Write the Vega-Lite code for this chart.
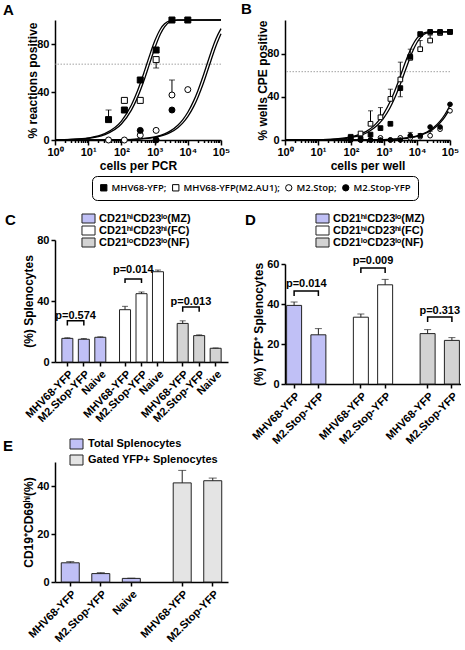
{
"$schema": "https://vega.github.io/schema/vega-lite/v6.json",
"padding": {"left": 3, "top": 1, "right": 0, "bottom": 0},
"config": {
 "view": {"stroke": null},
 "font": "Liberation Sans",
 "axis": {"labelFont": "Liberation Sans", "labelFontWeight": "bold", "labelFontSize": 11, "labelColor": "black", "titleFont": "Liberation Sans", "titleFontWeight": "bold", "titleFontSize": 12, "titleColor": "black", "domainColor": "black", "domainWidth": 1.5, "tickColor": "black", "tickWidth": 1.5, "tickSize": 4, "labelPadding": 2, "grid": false, "labelOverlap": false, "labelSeparation": -40},
 "axisY": {"labelOverlap": false, "labelSeparation": -40},
 "axisLeft": {"labelOverlap": false, "labelSeparation": -40},
 "title": {"font": "Liberation Sans", "fontSize": 15, "fontWeight": "bold", "anchor": "start", "frame": "group", "offset": 0, "color": "black"},
 "legend": {"labelFont": "Liberation Sans", "labelFontWeight": "bold", "labelColor": "black", "titleFont": "Liberation Sans", "titleFontSize": 15, "titleFontWeight": "bold", "titleColor": "black"}
},
"datasets": {
 "aPts": [
  {"s":"MHV68-YFP(M2.AU1)","x":123,"y":33},{"s":"MHV68-YFP(M2.AU1)","x":370,"y":33},{"s":"MHV68-YFP(M2.AU1)","x":1111,"y":67},
  {"s":"M2.Stop","x":41,"y":0},{"s":"M2.Stop","x":123,"y":0},{"s":"M2.Stop","x":370,"y":4},{"s":"M2.Stop","x":1111,"y":8},{"s":"M2.Stop","x":3333,"y":37.5},{"s":"M2.Stop","x":10000,"y":42},
  {"s":"MHV68-YFP","x":41,"y":17},{"s":"MHV68-YFP","x":123,"y":25},{"s":"MHV68-YFP","x":370,"y":50},{"s":"MHV68-YFP","x":1111,"y":75},{"s":"MHV68-YFP","x":3333,"y":100},{"s":"MHV68-YFP","x":10000,"y":100},
  {"s":"M2.Stop-YFP","x":370,"y":8},{"s":"M2.Stop-YFP","x":1111,"y":0},{"s":"M2.Stop-YFP","x":3333,"y":25}
 ],
 "aErr": [
  {"x":41,"lo":17,"hi":25},{"x":1111,"lo":60,"hi":67},{"x":3333,"lo":37.5,"hi":50}
 ],
 "aFit": [
  {"c":"l1","x":1,"y":0.17},{"c":"l1","x":3,"y":0.52},{"c":"l1","x":10,"y":1.71},{"c":"l1","x":30,"y":5.04},{"c":"l1","x":100,"y":15.8},{"c":"l1","x":200,"y":29.2},{"c":"l1","x":300,"y":40.4},{"c":"l1","x":500,"y":57.8},{"c":"l1","x":700,"y":70.1},{"c":"l1","x":1000,"y":82.2},{"c":"l1","x":1500,"y":92.5},{"c":"l1","x":2000,"y":96.8},{"c":"l1","x":3000,"y":99.4},{"c":"l1","x":5000,"y":100},{"c":"l1","x":100000,"y":100},
  {"c":"l2","x":1,"y":0.14},{"c":"l2","x":3,"y":0.43},{"c":"l2","x":10,"y":1.42},{"c":"l2","x":30,"y":4.2},{"c":"l2","x":100,"y":13.3},{"c":"l2","x":200,"y":24.9},{"c":"l2","x":300,"y":34.9},{"c":"l2","x":500,"y":51.0},{"c":"l2","x":700,"y":63.2},{"c":"l2","x":1000,"y":76.0},{"c":"l2","x":1500,"y":88.3},{"c":"l2","x":2000,"y":94.3},{"c":"l2","x":3000,"y":98.6},{"c":"l2","x":5000,"y":99.9},{"c":"l2","x":100000,"y":100},
  {"c":"r1","x":1,"y":0},{"c":"r1","x":10,"y":0.03},{"c":"r1","x":100,"y":0.26},{"c":"r1","x":300,"y":0.79},{"c":"r1","x":1000,"y":2.6},{"c":"r1","x":2000,"y":5.1},{"c":"r1","x":3000,"y":7.6},{"c":"r1","x":5000,"y":12.3},{"c":"r1","x":7000,"y":16.8},{"c":"r1","x":10000,"y":23.1},{"c":"r1","x":15000,"y":32.6},{"c":"r1","x":20000,"y":40.9},{"c":"r1","x":30000,"y":54.6},{"c":"r1","x":50000,"y":73.2},{"c":"r1","x":70000,"y":84.2},{"c":"r1","x":100000,"y":92.8},
  {"c":"r2","x":1,"y":0},{"c":"r2","x":10,"y":0.02},{"c":"r2","x":100,"y":0.22},{"c":"r2","x":300,"y":0.65},{"c":"r2","x":1000,"y":2.15},{"c":"r2","x":2000,"y":4.26},{"c":"r2","x":3000,"y":6.3},{"c":"r2","x":5000,"y":10.3},{"c":"r2","x":7000,"y":14.1},{"c":"r2","x":10000,"y":19.5},{"c":"r2","x":15000,"y":27.8},{"c":"r2","x":20000,"y":35.3},{"c":"r2","x":30000,"y":47.9},{"c":"r2","x":50000,"y":66.3},{"c":"r2","x":70000,"y":78.2},{"c":"r2","x":100000,"y":88.6}
 ],
 "bPts": [
  {"s":"M2.Stop","x":98,"y":0},{"s":"M2.Stop","x":195,"y":0},{"s":"M2.Stop","x":390,"y":0},{"s":"M2.Stop","x":781,"y":2},{"s":"M2.Stop","x":1562,"y":0},{"s":"M2.Stop","x":3125,"y":2},{"s":"M2.Stop","x":6250,"y":2},{"s":"M2.Stop","x":12500,"y":3},{"s":"M2.Stop","x":25000,"y":4},{"s":"M2.Stop","x":50000,"y":10},{"s":"M2.Stop","x":100000,"y":27},
  {"s":"M2.Stop-YFP","x":98,"y":0},{"s":"M2.Stop-YFP","x":195,"y":0},{"s":"M2.Stop-YFP","x":390,"y":0},{"s":"M2.Stop-YFP","x":781,"y":0},{"s":"M2.Stop-YFP","x":1562,"y":0},{"s":"M2.Stop-YFP","x":3125,"y":0},{"s":"M2.Stop-YFP","x":6250,"y":4},{"s":"M2.Stop-YFP","x":12500,"y":4},{"s":"M2.Stop-YFP","x":25000,"y":12},{"s":"M2.Stop-YFP","x":50000,"y":12},{"s":"M2.Stop-YFP","x":100000,"y":33},
  {"s":"MHV68-YFP(M2.AU1)","x":98,"y":3},{"s":"MHV68-YFP(M2.AU1)","x":195,"y":6},{"s":"MHV68-YFP(M2.AU1)","x":390,"y":15},{"s":"MHV68-YFP(M2.AU1)","x":781,"y":21},{"s":"MHV68-YFP(M2.AU1)","x":1562,"y":38},{"s":"MHV68-YFP(M2.AU1)","x":3125,"y":56},{"s":"MHV68-YFP(M2.AU1)","x":6250,"y":76},{"s":"MHV68-YFP(M2.AU1)","x":12500,"y":84},{"s":"MHV68-YFP(M2.AU1)","x":25000,"y":92},{"s":"MHV68-YFP(M2.AU1)","x":50000,"y":99},{"s":"MHV68-YFP(M2.AU1)","x":100000,"y":100},
  {"s":"MHV68-YFP","x":98,"y":2},{"s":"MHV68-YFP","x":195,"y":1},{"s":"MHV68-YFP","x":390,"y":5},{"s":"MHV68-YFP","x":781,"y":11},{"s":"MHV68-YFP","x":1562,"y":15},{"s":"MHV68-YFP","x":3125,"y":48},{"s":"MHV68-YFP","x":6250,"y":77},{"s":"MHV68-YFP","x":12500,"y":98},{"s":"MHV68-YFP","x":25000,"y":100},{"s":"MHV68-YFP","x":50000,"y":100},{"s":"MHV68-YFP","x":100000,"y":100}
 ],
 "bErr": [
  {"x":390,"lo":15,"hi":27},{"x":781,"lo":21,"hi":30},{"x":1562,"lo":38,"hi":47},{"x":3125,"lo":56,"hi":72},{"x":3125,"lo":40,"hi":48},{"x":6250,"lo":76,"hi":84},{"x":12500,"lo":84,"hi":92},{"x":25000,"lo":92,"hi":97},{"x":6250,"lo":4,"hi":7},{"x":12500,"lo":4,"hi":6},{"x":25000,"lo":4,"hi":8}
 ],
 "bFit": [
  {"c":"l1","x":1,"y":0.03},{"c":"l1","x":10,"y":0.29},{"c":"l1","x":30,"y":0.85},{"c":"l1","x":100,"y":2.8},{"c":"l1","x":200,"y":5.6},{"c":"l1","x":300,"y":8.2},{"c":"l1","x":500,"y":13.3},{"c":"l1","x":700,"y":18.1},{"c":"l1","x":1000,"y":24.9},{"c":"l1","x":1500,"y":34.9},{"c":"l1","x":2000,"y":43.5},{"c":"l1","x":3000,"y":57.6},{"c":"l1","x":5000,"y":76.0},{"c":"l1","x":7000,"y":86.5},{"c":"l1","x":10000,"y":94.3},{"c":"l1","x":15000,"y":98.6},{"c":"l1","x":20000,"y":99.7},{"c":"l1","x":30000,"y":100},{"c":"l1","x":100000,"y":100},
  {"c":"l2","x":1,"y":0.02},{"c":"l2","x":10,"y":0.23},{"c":"l2","x":30,"y":0.7},{"c":"l2","x":100,"y":2.3},{"c":"l2","x":200,"y":4.5},{"c":"l2","x":300,"y":6.7},{"c":"l2","x":500,"y":11.0},{"c":"l2","x":700,"y":15.0},{"c":"l2","x":1000,"y":20.8},{"c":"l2","x":1500,"y":29.4},{"c":"l2","x":2000,"y":37.2},{"c":"l2","x":3000,"y":50.2},{"c":"l2","x":5000,"y":68.7},{"c":"l2","x":7000,"y":80.4},{"c":"l2","x":10000,"y":90.2},{"c":"l2","x":15000,"y":96.9},{"c":"l2","x":20000,"y":99.0},{"c":"l2","x":30000,"y":99.9},{"c":"l2","x":100000,"y":100},
  {"c":"r1","x":1,"y":0},{"c":"r1","x":100,"y":0.04},{"c":"r1","x":1000,"y":0.38},{"c":"r1","x":3000,"y":1.15},{"c":"r1","x":10000,"y":3.8},{"c":"r1","x":20000,"y":7.4},{"c":"r1","x":30000,"y":10.9},{"c":"r1","x":50000,"y":17.5},{"c":"r1","x":70000,"y":23.6},{"c":"r1","x":100000,"y":31.9},
  {"c":"r2","x":1,"y":0},{"c":"r2","x":100,"y":0.03},{"c":"r2","x":1000,"y":0.34},{"c":"r2","x":3000,"y":1.03},{"c":"r2","x":10000,"y":3.4},{"c":"r2","x":20000,"y":6.7},{"c":"r2","x":30000,"y":9.8},{"c":"r2","x":50000,"y":15.8},{"c":"r2","x":70000,"y":21.4},{"c":"r2","x":100000,"y":29.2}
 ],
 "cBars": [
  {"k":"MZ|MHV68-YFP","g":"CD21ʰⁱCD23ˡᵒ(MZ)","v":15.5,"e":15.9},{"k":"MZ|M2.Stop-YFP","g":"CD21ʰⁱCD23ˡᵒ(MZ)","v":14.9,"e":15.4},{"k":"MZ|Naive","g":"CD21ʰⁱCD23ˡᵒ(MZ)","v":16.2,"e":16.5},
  {"k":"FC|MHV68-YFP","g":"CD21ʰⁱCD23ʰⁱ(FC)","v":34.3,"e":36.5},{"k":"FC|M2.Stop-YFP","g":"CD21ʰⁱCD23ʰⁱ(FC)","v":44.8,"e":45.9},{"k":"FC|Naive","g":"CD21ʰⁱCD23ʰⁱ(FC)","v":59.2,"e":60.3},
  {"k":"NF|MHV68-YFP","g":"CD21ˡᵒCD23ˡᵒ(NF)","v":25.3,"e":27.0},{"k":"NF|M2.Stop-YFP","g":"CD21ˡᵒCD23ˡᵒ(NF)","v":17.3,"e":17.8},{"k":"NF|Naive","g":"CD21ˡᵒCD23ˡᵒ(NF)","v":9.0,"e":9.2}
 ],
 "cBr": [
  {"b":"MZ","k":"MZ|MHV68-YFP","y":24,"o":0},{"b":"MZ","k":"MZ|MHV68-YFP","y":27,"o":1},{"b":"MZ","k":"MZ|M2.Stop-YFP","y":27,"o":2},{"b":"MZ","k":"MZ|M2.Stop-YFP","y":24,"o":3},
  {"b":"FC","k":"FC|MHV68-YFP","y":51.8,"o":0},{"b":"FC","k":"FC|MHV68-YFP","y":54.5,"o":1},{"b":"FC","k":"FC|M2.Stop-YFP","y":54.5,"o":2},{"b":"FC","k":"FC|M2.Stop-YFP","y":51.8,"o":3},
  {"b":"NF","k":"NF|MHV68-YFP","y":33,"o":0},{"b":"NF","k":"NF|MHV68-YFP","y":36,"o":1},{"b":"NF","k":"NF|M2.Stop-YFP","y":36,"o":2},{"b":"NF","k":"NF|M2.Stop-YFP","y":33,"o":3}
 ],
 "cP": [
  {"k":"s1","y":28.4,"t":"p=0.574"},{"k":"s5","y":58.2,"t":"p=0.014"},{"k":"s9","y":37.5,"t":"p=0.013"}
 ],
 "dBars": [
  {"k":"MZ|MHV68-YFP","g":"CD21ʰⁱCD23ˡᵒ(MZ)","v":39.3,"e":41.0},{"k":"MZ|M2.Stop-YFP","g":"CD21ʰⁱCD23ˡᵒ(MZ)","v":24.6,"e":27.7},
  {"k":"FC|MHV68-YFP","g":"CD21ʰⁱCD23ʰⁱ(FC)","v":33.4,"e":35.0},{"k":"FC|M2.Stop-YFP","g":"CD21ʰⁱCD23ʰⁱ(FC)","v":49.6,"e":52.3},
  {"k":"NF|MHV68-YFP","g":"CD21ˡᵒCD23ˡᵒ(NF)","v":25.2,"e":27.2},{"k":"NF|M2.Stop-YFP","g":"CD21ˡᵒCD23ˡᵒ(NF)","v":21.8,"e":23.2}
 ],
 "dBr": [
  {"b":"MZ","k":"MZ|MHV68-YFP","y":44,"o":0},{"b":"MZ","k":"MZ|MHV68-YFP","y":46.5,"o":1},{"b":"MZ","k":"MZ|M2.Stop-YFP","y":46.5,"o":2},{"b":"MZ","k":"MZ|M2.Stop-YFP","y":44,"o":3},
  {"b":"FC","k":"FC|MHV68-YFP","y":55.5,"o":0},{"b":"FC","k":"FC|MHV68-YFP","y":58,"o":1},{"b":"FC","k":"FC|M2.Stop-YFP","y":58,"o":2},{"b":"FC","k":"FC|M2.Stop-YFP","y":55.5,"o":3},
  {"b":"NF","k":"NF|MHV68-YFP","y":31,"o":0},{"b":"NF","k":"NF|MHV68-YFP","y":33.5,"o":1},{"b":"NF","k":"NF|M2.Stop-YFP","y":33.5,"o":2},{"b":"NF","k":"NF|M2.Stop-YFP","y":31,"o":3}
 ],
 "dP": [
  {"k":"d2","y":48.5,"t":"p=0.014"},{"k":"d11","y":60,"t":"p=0.009"},{"k":"d20","y":35,"t":"p=0.313"}
 ],
 "eBars": [
  {"k":"T|MHV68-YFP","g":"Total Splenocytes","v":8.0,"e":8.5},{"k":"T|M2.Stop-YFP","g":"Total Splenocytes","v":3.5,"e":3.9},{"k":"T|Naive","g":"Total Splenocytes","v":1.5,"e":1.6},
  {"k":"G|MHV68-YFP","g":"Gated YFP+ Splenocytes","v":41.3,"e":46.5},{"k":"G|M2.Stop-YFP","g":"Gated YFP+ Splenocytes","v":42.2,"e":43.3}
 ]
},
"columns": 2,
"spacing": {"row": 78, "column": 57},
"bounds": "flush",
"resolve": {"scale": {"fill": "independent", "shape": "independent", "stroke": "independent"}, "legend": {"fill": "independent", "shape": "independent", "stroke": "independent"}},
"concat": [
 {
  "title": {"text": "A", "dx": -52, "dy": 7},
  "width": 166, "height": 120,
  "layer": [
   {"data": {"values": [{"y": 63.2}]}, "mark": {"type": "rule", "color": "#8c8c8c", "strokeWidth": 0.8, "strokeDash": [1.5, 1.5]},
    "encoding": {"y": {"field": "y", "type": "quantitative", "scale": {"domain": [0, 100], "nice": false}, "axis": {"values": [0,20,40,60,80,100], "labelOverlap": false, "labelSeparation": -40, "labelFlush": false, "title": "% reactions positive", "titlePadding": -3}}}},
   {"data": {"name": "aFit"}, "mark": {"type": "line", "color": "black", "strokeWidth": 1.3, "interpolate": "monotone"},
    "encoding": {"x": {"field": "x", "type": "quantitative", "scale": {"type": "log", "domain": [1, 100000], "nice": false},
      "axis": {"values": [1,2,3,4,5,6,7,8,9,10,20,30,40,50,60,70,80,90,100,200,300,400,500,600,700,800,900,1000,2000,3000,4000,5000,6000,7000,8000,9000,10000,20000,30000,40000,50000,60000,70000,80000,90000,100000],
       "labelExpr": "indexof([1,10,100,1000,10000,100000], datum.value) >= 0 ? '10' + ['⁰','¹','²','³','⁴','⁵'][round(log(datum.value)/LN10)] : ''",
       "labelOverlap": false, "labelFlush": false, "labelPadding": 1,
       "tickSize": {"condition": {"test": "indexof([1,10,100,1000,10000,100000], datum.value) >= 0", "value": 5}, "value": 2.5},
       "title": "cells per PCR", "titlePadding": 3}},
     "y": {"field": "y", "type": "quantitative"}, "detail": {"field": "c"}}},
   {"data": {"name": "aErr"}, "mark": {"type": "rule", "color": "black", "strokeWidth": 1},
    "encoding": {"x": {"field": "x", "type": "quantitative"}, "y": {"field": "lo", "type": "quantitative"}, "y2": {"field": "hi"}}},
   {"data": {"name": "aErr"}, "mark": {"type": "tick", "orient": "horizontal", "size": 6, "thickness": 1, "color": "black"},
    "encoding": {"x": {"field": "x", "type": "quantitative"}, "y": {"field": "hi", "type": "quantitative"}}},
   {"data": {"name": "aErr"}, "mark": {"type": "tick", "orient": "horizontal", "size": 6, "thickness": 1, "color": "black"},
    "encoding": {"x": {"field": "x", "type": "quantitative"}, "y": {"field": "lo", "type": "quantitative"}}},
   {"data": {"name": "aPts"}, "mark": {"type": "point", "filled": true, "strokeWidth": 1, "size": 36, "opacity": 1},
    "encoding": {"x": {"field": "x", "type": "quantitative"}, "y": {"field": "y", "type": "quantitative"},
     "fill": {"field": "s", "type": "nominal", "scale": {"domain": ["MHV68-YFP","MHV68-YFP(M2.AU1)","M2.Stop","M2.Stop-YFP"], "range": ["black","white","white","black"]},
      "legend": {"orient": "none", "legendX": 37, "legendY": 156, "direction": "horizontal", "columns": 4, "title": null, "strokeColor": "black", "fillColor": "white", "cornerRadius": 5, "padding": 7, "labelFont": "Open Sans", "labelFontSize": 9.5, "labelFontWeight": 600, "symbolSize": 40, "symbolStrokeWidth": 1, "columnPadding": 3, "labelOffset": 3, "labelExpr": "datum.label == 'M2.Stop-YFP' ? datum.label : datum.label + ';'"}},
     "shape": {"field": "s", "type": "nominal", "scale": {"domain": ["MHV68-YFP","MHV68-YFP(M2.AU1)","M2.Stop","M2.Stop-YFP"], "range": ["square","square","circle","circle"]},
      "legend": {"orient": "none", "legendX": 37, "legendY": 156, "direction": "horizontal", "columns": 4, "title": null, "strokeColor": "black", "fillColor": "white", "cornerRadius": 5, "padding": 7, "labelFont": "Open Sans", "labelFontSize": 9.5, "labelFontWeight": 600, "symbolSize": 40, "symbolStrokeWidth": 1, "columnPadding": 3, "labelOffset": 3, "labelExpr": "datum.label == 'M2.Stop-YFP' ? datum.label : datum.label + ';'"}},
     "stroke": {"field": "s", "type": "nominal", "scale": {"domain": ["MHV68-YFP","MHV68-YFP(M2.AU1)","M2.Stop","M2.Stop-YFP"], "range": ["black","black","black","black"]},
      "legend": {"orient": "none", "legendX": 37, "legendY": 156, "direction": "horizontal", "columns": 4, "title": null, "strokeColor": "black", "fillColor": "white", "cornerRadius": 5, "padding": 7, "labelFont": "Open Sans", "labelFontSize": 9.5, "labelFontWeight": 600, "symbolSize": 40, "symbolStrokeWidth": 1, "columnPadding": 3, "labelOffset": 3, "labelExpr": "datum.label == 'M2.Stop-YFP' ? datum.label : datum.label + ';'"}}}}
  ]
 },
 {
  "title": {"text": "B", "dx": -44, "dy": 1},
  "width": 165, "height": 120,
  "layer": [
   {"data": {"values": [{"y": 63.2}]}, "mark": {"type": "rule", "color": "#8c8c8c", "strokeWidth": 0.8, "strokeDash": [1.5, 1.5]},
    "encoding": {"y": {"field": "y", "type": "quantitative", "scale": {"domain": [0, 111], "nice": false}, "axis": {"values": [0,20,40,60,80,100], "labelOverlap": false, "labelSeparation": -40, "labelFlush": false, "title": "% wells CPE positive", "titlePadding": -3}}}},
   {"data": {"name": "bFit"}, "mark": {"type": "line", "color": "black", "strokeWidth": 1.3, "interpolate": "monotone"},
    "encoding": {"x": {"field": "x", "type": "quantitative", "scale": {"type": "log", "domain": [1, 100000], "nice": false},
      "axis": {"values": [1,2,3,4,5,6,7,8,9,10,20,30,40,50,60,70,80,90,100,200,300,400,500,600,700,800,900,1000,2000,3000,4000,5000,6000,7000,8000,9000,10000,20000,30000,40000,50000,60000,70000,80000,90000,100000],
       "labelExpr": "indexof([1,10,100,1000,10000,100000], datum.value) >= 0 ? '10' + ['⁰','¹','²','³','⁴','⁵'][round(log(datum.value)/LN10)] : ''",
       "labelOverlap": false, "labelFlush": false, "labelPadding": 1,
       "tickSize": {"condition": {"test": "indexof([1,10,100,1000,10000,100000], datum.value) >= 0", "value": 5}, "value": 2.5},
       "title": "cells per well", "titlePadding": 3}},
     "y": {"field": "y", "type": "quantitative"}, "detail": {"field": "c"}}},
   {"data": {"name": "bErr"}, "mark": {"type": "rule", "color": "black", "strokeWidth": 1},
    "encoding": {"x": {"field": "x", "type": "quantitative"}, "y": {"field": "lo", "type": "quantitative"}, "y2": {"field": "hi"}}},
   {"data": {"name": "bErr"}, "mark": {"type": "tick", "orient": "horizontal", "size": 5, "thickness": 1, "color": "black"},
    "encoding": {"x": {"field": "x", "type": "quantitative"}, "y": {"field": "hi", "type": "quantitative"}}},
   {"data": {"name": "bErr"}, "mark": {"type": "tick", "orient": "horizontal", "size": 5, "thickness": 1, "color": "black"},
    "encoding": {"x": {"field": "x", "type": "quantitative"}, "y": {"field": "lo", "type": "quantitative"}}},
   {"data": {"name": "bPts"}, "mark": {"type": "point", "filled": true, "stroke": "black", "strokeWidth": 1, "size": 22, "opacity": 1},
    "encoding": {"x": {"field": "x", "type": "quantitative"}, "y": {"field": "y", "type": "quantitative"},
     "fill": {"field": "s", "type": "nominal", "scale": {"domain": ["MHV68-YFP","MHV68-YFP(M2.AU1)","M2.Stop","M2.Stop-YFP"], "range": ["black","white","white","black"]}, "legend": null},
     "shape": {"field": "s", "type": "nominal", "scale": {"domain": ["MHV68-YFP","MHV68-YFP(M2.AU1)","M2.Stop","M2.Stop-YFP"], "range": ["square","square","circle","circle"]}, "legend": null}}}
  ]
 },
 {
  "width": 173, "height": 144,
  "layer": [
   {"data": {"name": "cBars"}, "mark": {"type": "bar", "width": 11, "stroke": "#222222", "strokeWidth": 1},
    "encoding": {
     "x": {"field": "k", "type": "nominal", "scale": {"domain": ["MZ|MHV68-YFP","s1","MZ|M2.Stop-YFP","s2","MZ|Naive","s3","s4","FC|MHV68-YFP","s5","FC|M2.Stop-YFP","s6","FC|Naive","s7","s8","NF|MHV68-YFP","s9","NF|M2.Stop-YFP","s10","NF|Naive"], "paddingInner": 0, "paddingOuter": 1.17},
      "axis": {"values": ["MZ|MHV68-YFP","MZ|M2.Stop-YFP","MZ|Naive","FC|MHV68-YFP","FC|M2.Stop-YFP","FC|Naive","NF|MHV68-YFP","NF|M2.Stop-YFP","NF|Naive"], "labelExpr": "split(datum.value, '|')[1]", "labelAngle": -45, "labelOverlap": false, "title": null}},
     "y": {"field": "v", "type": "quantitative", "scale": {"domain": [0, 80], "range": [144, 22], "nice": false}, "axis": {"values": [0,20,40,60,80], "labelOverlap": false, "labelSeparation": -40, "labelFlush": false, "title": "(%) Splenocytes", "titlePadding": 1}},
     "fill": {"field": "g", "type": "nominal", "scale": {"domain": ["CD21ʰⁱCD23ˡᵒ(MZ)","CD21ʰⁱCD23ʰⁱ(FC)","CD21ˡᵒCD23ˡᵒ(NF)"], "range": ["#c0c0f6","#ffffff","#d3d3d3"]},
      "legend": {"orient": "none", "legendX": -50, "legendY": -5, "title": "C", "titleOrient": "left", "titleAnchor": "start", "titleBaseline": "top", "titlePadding": 67, "symbolType": "M-1.45,-1H1.45V1H-1.45Z", "symbolSize": 81, "symbolStrokeColor": "#222222", "symbolStrokeWidth": 1, "labelFontSize": 11, "rowPadding": -4, "labelOffset": 5}}}},
   {"data": {"name": "cBars"}, "mark": {"type": "rule", "color": "#222222", "strokeWidth": 1},
    "encoding": {"x": {"field": "k", "type": "nominal"}, "y": {"field": "v", "type": "quantitative"}, "y2": {"field": "e"}}},
   {"data": {"name": "cBars"}, "mark": {"type": "tick", "orient": "horizontal", "size": 6, "thickness": 1, "color": "#222222"},
    "encoding": {"x": {"field": "k", "type": "nominal"}, "y": {"field": "e", "type": "quantitative"}}},
   {"data": {"name": "cBr"}, "mark": {"type": "line", "color": "black", "strokeWidth": 1.5},
    "encoding": {"x": {"field": "k", "type": "nominal"}, "y": {"field": "y", "type": "quantitative"}, "detail": {"field": "b"}, "order": {"field": "o"}}},
   {"data": {"name": "cP"}, "mark": {"type": "text", "font": "Liberation Sans", "fontWeight": "bold", "fontSize": 11, "baseline": "alphabetic"},
    "encoding": {"x": {"field": "k", "type": "nominal"}, "y": {"field": "y", "type": "quantitative"}, "text": {"field": "t"}}}
  ]
 },
 {
  "width": 176, "height": 166,
  "layer": [
   {"data": {"name": "dBars"}, "mark": {"type": "bar", "width": 15, "stroke": "#222222", "strokeWidth": 1},
    "encoding": {
     "x": {"field": "k", "type": "nominal", "scale": {"domain": ["MZ|MHV68-YFP","d1","d2","d3","MZ|M2.Stop-YFP","d4","d5","d6","d7","d8","d9","FC|MHV68-YFP","d10","d11","d12","FC|M2.Stop-YFP","d13","d14","d15","d16","d17","d18","NF|MHV68-YFP","d19","d20","d21","NF|M2.Stop-YFP"], "paddingInner": 0, "paddingOuter": 3.35},
      "axis": {"values": ["MZ|MHV68-YFP","MZ|M2.Stop-YFP","FC|MHV68-YFP","FC|M2.Stop-YFP","NF|MHV68-YFP","NF|M2.Stop-YFP"], "labelExpr": "split(datum.value, '|')[1]", "labelAngle": -45, "labelOverlap": false, "title": null}},
     "y": {"field": "v", "type": "quantitative", "scale": {"domain": [0, 60], "range": [166, 46], "nice": false}, "axis": {"values": [0,20,40,60], "labelOverlap": false, "labelSeparation": -40, "labelFlush": false, "title": "(%) YFP⁺ Splenocytes", "titlePadding": 1}},
     "fill": {"field": "g", "type": "nominal", "scale": {"domain": ["CD21ʰⁱCD23ˡᵒ(MZ)","CD21ʰⁱCD23ʰⁱ(FC)","CD21ˡᵒCD23ˡᵒ(NF)"], "range": ["#c0c0f6","#ffffff","#d3d3d3"]},
      "legend": {"orient": "none", "legendX": -40, "legendY": -5, "title": "D", "titleOrient": "left", "titleAnchor": "start", "titleBaseline": "top", "titlePadding": 61, "symbolType": "M-1.45,-1H1.45V1H-1.45Z", "symbolSize": 81, "symbolStrokeColor": "#222222", "symbolStrokeWidth": 1, "labelFontSize": 11, "rowPadding": -4, "labelOffset": 5}}}},
   {"data": {"name": "dBars"}, "mark": {"type": "rule", "color": "#222222", "strokeWidth": 1},
    "encoding": {"x": {"field": "k", "type": "nominal"}, "y": {"field": "v", "type": "quantitative"}, "y2": {"field": "e"}}},
   {"data": {"name": "dBars"}, "mark": {"type": "tick", "orient": "horizontal", "size": 7, "thickness": 1, "color": "#222222"},
    "encoding": {"x": {"field": "k", "type": "nominal"}, "y": {"field": "e", "type": "quantitative"}}},
   {"data": {"name": "dBr"}, "mark": {"type": "line", "color": "black", "strokeWidth": 1.5},
    "encoding": {"x": {"field": "k", "type": "nominal"}, "y": {"field": "y", "type": "quantitative"}, "detail": {"field": "b"}, "order": {"field": "o"}}},
   {"data": {"name": "dP"}, "mark": {"type": "text", "font": "Liberation Sans", "fontWeight": "bold", "fontSize": 11, "baseline": "alphabetic"},
    "encoding": {"x": {"field": "k", "type": "nominal"}, "y": {"field": "y", "type": "quantitative"}, "text": {"field": "t"}}}
  ]
 },
 {
  "width": 173, "height": 120,
  "layer": [
   {"data": {"name": "eBars"}, "mark": {"type": "bar", "width": 18, "stroke": "#222222", "strokeWidth": 1},
    "encoding": {
     "x": {"field": "k", "type": "nominal", "scale": {"domain": ["T|MHV68-YFP","e1","e2","T|M2.Stop-YFP","e3","e4","T|Naive","e5","e6","e7","e8","G|MHV68-YFP","e9","e10","G|M2.Stop-YFP"], "paddingInner": 0, "paddingOuter": 2.11},
      "axis": {"values": ["T|MHV68-YFP","T|M2.Stop-YFP","T|Naive","G|MHV68-YFP","G|M2.Stop-YFP"], "labelExpr": "split(datum.value, '|')[1]", "labelAngle": -45, "labelOverlap": false, "title": null}},
     "y": {"field": "v", "type": "quantitative", "scale": {"domain": [0, 50], "nice": false}, "axis": {"values": [0,10,20,30,40,50], "labelOverlap": false, "labelSeparation": -40, "labelFlush": false, "title": "CD19⁺CD69ʰⁱ(%)", "titlePadding": 1}},
     "fill": {"field": "g", "type": "nominal", "scale": {"domain": ["Total Splenocytes","Gated YFP+ Splenocytes"], "range": ["#c0c0f6","#e4e4e4"]},
      "legend": {"orient": "none", "legendX": -52, "legendY": -23.5, "title": "E", "titleOrient": "left", "titleAnchor": "start", "titleBaseline": "top", "titlePadding": 57, "symbolType": "M-1.3,-1H1.3V1H-1.3Z", "symbolSize": 100, "symbolStrokeColor": "#222222", "symbolStrokeWidth": 1, "labelFontSize": 11, "rowPadding": 1, "labelOffset": 6}}}},
   {"data": {"name": "eBars"}, "mark": {"type": "rule", "color": "#222222", "strokeWidth": 1},
    "encoding": {"x": {"field": "k", "type": "nominal"}, "y": {"field": "v", "type": "quantitative"}, "y2": {"field": "e"}}},
   {"data": {"name": "eBars"}, "mark": {"type": "tick", "orient": "horizontal", "size": 8, "thickness": 1, "color": "#222222"},
    "encoding": {"x": {"field": "k", "type": "nominal"}, "y": {"field": "e", "type": "quantitative"}}}
  ]
 }
]
}
